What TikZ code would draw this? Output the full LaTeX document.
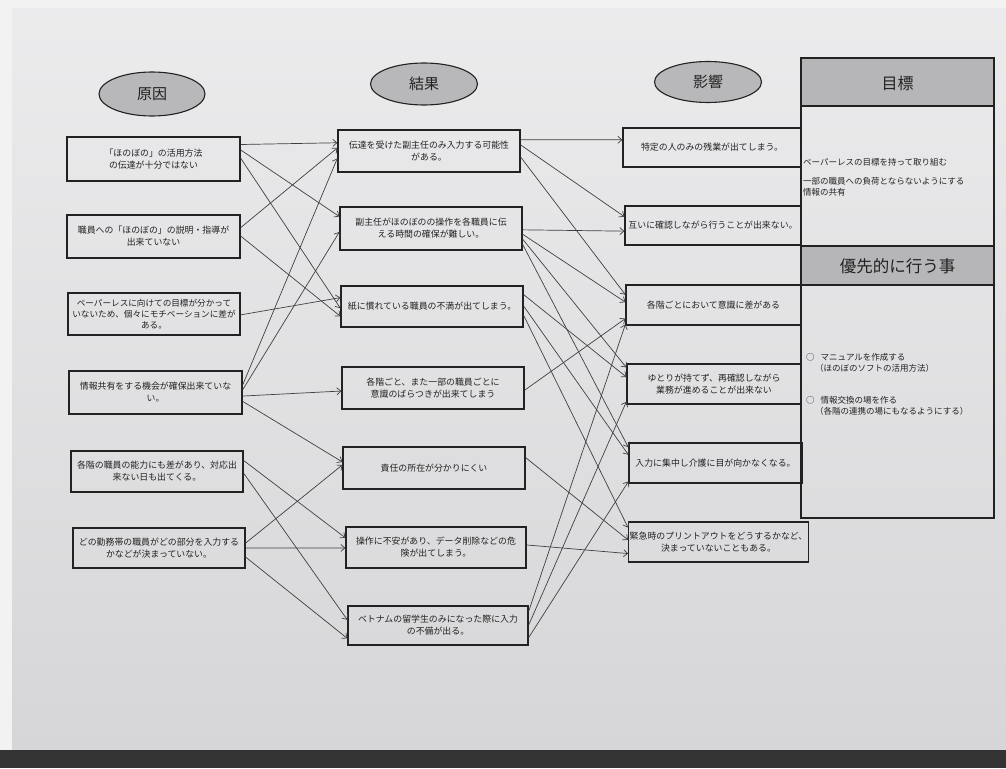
\documentclass[tikz,border=0pt]{standalone}
\usepackage{fontspec}
\newfontfamily\jp{Noto Sans CJK JP}
\usetikzlibrary{arrows.meta,shapes.geometric,calc}
\definecolor{paper}{HTML}{E3E3E5}
\definecolor{paperdk}{HTML}{D6D6D8}
\definecolor{hdr}{HTML}{B6B6B8}
\definecolor{ell}{HTML}{B8B8BA}
\definecolor{ink}{HTML}{222222}
\tikzset{
  box/.style={draw=ink, line width=1.3pt, rectangle, inner sep=1pt, align=center,
              font=\jp\fontsize{8.9}{12}\selectfont, text=ink},
  oval/.style={draw=ink, line width=1.1pt, ellipse, fill=ell, inner sep=0pt,
              font=\jp\fontsize{15}{15}\selectfont, text=ink},
  arr/.style={draw=black!75, line width=0.7pt, -{Straight Barb[length=4pt,width=7pt]}},
  ptxt/.style={font=\jp\fontsize{8.5}{11.5}\selectfont, text=ink, inner sep=0pt, align=left},
  htxt/.style={font=\jp\fontsize{16}{16}\selectfont, text=ink, inner sep=0pt}
}
\newcommand\linkit[4]{\draw[arr] ($(#1.north east)!#2!(#1.south east)$) -- ($(#3.north west)!#4!(#3.south west)$);}
\begin{document}
\begin{tikzpicture}[x=1pt,y=-1pt]
% background / paper
\fill[white!95!black] (0,0) rectangle (1006,768);
\shade[top color=paper!70!white, bottom color=paperdk] (12,9) rectangle (1006,750);
\fill[black!80] (0,750) rectangle (1006,768);
\useasboundingbox (0,0) rectangle (1006,768);

% headers (ellipses)
\node[oval, minimum width=106pt, minimum height=44pt] (e1) at (152,94) {原因};
\node[oval, minimum width=107pt, minimum height=42pt] (e2) at (424,84) {結果};
\node[oval, minimum width=107pt, minimum height=41pt] (e3) at (708,82) {影響};

% causes
\node[box, minimum width=173pt, minimum height=44pt] (C1) at (153.5,159) {「ほのぼの」の活用方法\\の伝達が十分ではない};
\node[box, minimum width=173pt, minimum height=43pt] (C2) at (153.5,236.5) {職員への「ほのぼの」の説明・指導が\\出来ていない};
\node[box, minimum width=172pt, minimum height=42pt, font=\jp\fontsize{8.6}{11}\selectfont] (C3) at (154,314) {ペーパーレスに向けての目標が分かって\\いないため、個々にモチベーションに差が\\ある。};
\node[box, minimum width=173pt, minimum height=43pt] (C4) at (155.5,392.5) {情報共有をする機会が確保出来ていな\\い。};
\node[box, minimum width=172pt, minimum height=41pt] (C5) at (157,471.5) {各階の職員の能力にも差があり、対応出\\来ない日も出てくる。};
\node[box, minimum width=172pt, minimum height=40pt] (C6) at (159,548) {どの勤務帯の職員がどの部分を入力する\\かなどが決まっていない。};

% results
\node[box, minimum width=182pt, minimum height=42pt] (R1) at (429,151) {伝達を受けた副主任のみ入力する可能性\\がある。};
\node[box, minimum width=182pt, minimum height=43pt] (R2) at (431,228.5) {副主任がほのぼのの操作を各職員に伝\\える時間の確保が難しい。};
\node[box, minimum width=182pt, minimum height=41pt] (R3) at (432,306.5) {紙に慣れている職員の不満が出てしまう。};
\node[box, minimum width=182pt, minimum height=42pt] (R4) at (433,388) {各階ごと、また一部の職員ごとに\\意識のばらつきが出来てしまう};
\node[box, minimum width=182pt, minimum height=42pt] (R5) at (434,468) {責任の所在が分かりにくい};
\node[box, minimum width=180pt, minimum height=41pt] (R6) at (436,547.5) {操作に不安があり、データ削除などの危\\険が出てしまう。};
\node[box, minimum width=180pt, minimum height=39pt] (R7) at (438,625.5) {ベトナムの留学生のみになった際に入力\\の不備が出る。};

% impacts
\node[box, minimum width=178pt, minimum height=39pt] (I1) at (712,147.5) {特定の人のみの残業が出てしまう。};
\node[box, minimum width=176pt, minimum height=39pt] (I2) at (713,225.5) {互いに確認しながら行うことが出来ない。};
\node[box, minimum width=175pt, minimum height=40pt] (I3) at (713.5,305) {各階ごとにおいて意識に差がある};
\node[box, minimum width=174pt, minimum height=40pt] (I4) at (714,384) {ゆとりが持てず、再確認しながら\\業務が進めることが出来ない};
\node[box, minimum width=173pt, minimum height=40pt] (I5) at (715.5,463) {入力に集中し介護に目が向かなくなる。};
\node[box, minimum width=177pt, minimum height=40pt] (I6) at (718.5,542) {緊急時のプリントアウトをどうするかなど、\\決まっていないこともある。};

% right panel
\fill[hdr] (801,58) rectangle (994,106);
\fill[hdr] (801,246) rectangle (994,285);
\draw[draw=ink, line width=1.3pt] (801,58) rectangle (994,518);
\draw[draw=ink, line width=1.3pt] (801,106) -- (994,106);
\draw[draw=ink, line width=1.3pt] (801,246) -- (994,246);
\draw[draw=ink, line width=1.3pt] (801,285) -- (994,285);
\node[htxt] (h1) at (897.5,83) {目標};
\node[htxt, font=\jp\fontsize{16.5}{16.5}\selectfont] (h2) at (897.5,266) {優先的に行う事};
\node[ptxt, anchor=west] (g1) at (803,162) {ペーパーレスの目標を持って取り組む};
\node[ptxt, anchor=north west] (g2) at (803,177) {一部の職員への負荷とならないようにする\\情報の共有};
\node[ptxt, anchor=north west] (p1) at (806,353) {○\hspace{6pt}マニュアルを作成する\\\hspace{9pt}（ほのぼのソフトの活用方法）};
\node[ptxt, anchor=north west] (p2) at (806,396) {○\hspace{6pt}情報交換の場を作る\\\hspace{9pt}（各階の連携の場にもなるようにする）};

% cause -> result
\linkit{C1}{.18}{R1}{.31}
\linkit{C1}{.30}{R2}{.23}
\linkit{C1}{.48}{R3}{.54}
\linkit{C2}{.30}{R1}{.43}
\linkit{C2}{.49}{R3}{.73}
\linkit{C3}{.52}{R3}{.29}
\linkit{C4}{.33}{R1}{.67}
\linkit{C4}{.44}{R2}{.58}
\linkit{C4}{.58}{R4}{.57}
\linkit{C4}{.70}{R5}{.36}
\linkit{C5}{.24}{R6}{.27}
\linkit{C5}{.54}{R7}{.36}
\linkit{C6}{.38}{R5}{.43}
\linkit{C6}{.50}{R6}{.51}
\linkit{C6}{.72}{R7}{.82}

% result -> impact
\linkit{R1}{.24}{I1}{.31}
\linkit{R1}{.36}{I2}{.28}
\linkit{R1}{.64}{I3}{.25}
\linkit{R2}{.53}{I2}{.64}
\linkit{R2}{.63}{I3}{.43}
\linkit{R2}{.74}{I4}{.10}
\linkit{R2}{.86}{I5}{.12}
\linkit{R3}{.22}{I4}{.33}
\linkit{R3}{.49}{I5}{.30}
\linkit{R3}{.71}{I6}{.15}
\linkit{R4}{.55}{I3}{.83}
\linkit{R5}{.26}{I6}{.45}
\linkit{R6}{.44}{I6}{.78}
\linkit{R7}{.15}{I3}{.97}
\linkit{R7}{.49}{I4}{.93}
\linkit{R7}{.80}{I5}{.95}
\end{tikzpicture}
\end{document}
